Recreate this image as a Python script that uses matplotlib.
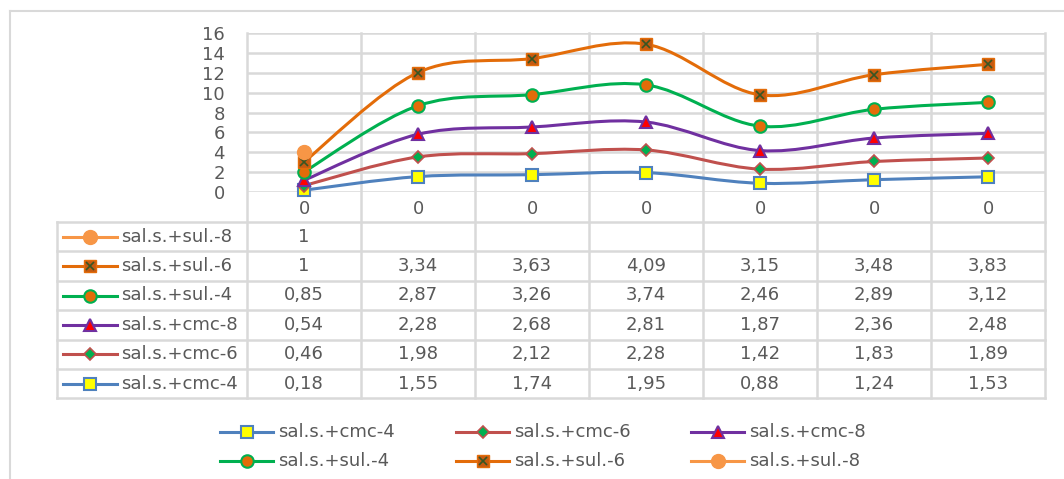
import numpy as np
import matplotlib
matplotlib.use("Agg")
import matplotlib.pyplot as plt
from matplotlib.path import Path
from matplotlib.patches import PathPatch

plt.rcParams['font.family'] = ['DejaVu Sans']

categories = ["0", "0", "0", "0", "0", "0", "0"]

cmc_4 = [0.18, 1.55, 1.74, 1.95, 0.88, 1.24, 1.53]
cmc_6 = [0.46, 1.98, 2.12, 2.28, 1.42, 1.83, 1.89]
cmc_8 = [0.54, 2.28, 2.68, 2.81, 1.87, 2.36, 2.48]
sul_4 = [0.85, 2.87, 3.26, 3.74, 2.46, 2.89, 3.12]
sul_6 = [1, 3.34, 3.63, 4.09, 3.15, 3.48, 3.83]
sul_8 = [1, None, None, None, None, None, None]

names = ["sal.s.+cmc-4", "sal.s.+cmc-6", "sal.s.+cmc-8",
         "sal.s.+sul.-4", "sal.s.+sul.-6", "sal.s.+sul.-8"]
series = [cmc_4, cmc_6, cmc_8, sul_4, sul_6, sul_8]

styles = [
    dict(color="#4F81BD", marker="s", mfc="#FFFF00", mec="#4F81BD", ms=8, mew=1.5),
    dict(color="#C0504D", marker="D", mfc="#00B050", mec="#C0504D", ms=6, mew=1.2),
    dict(color="#7030A0", marker="^", mfc="#FF0000", mec="#7030A0", ms=9, mew=1.5),
    dict(color="#00B050", marker="o", mfc="#E36C09", mec="#00B050", ms=9, mew=1.5),
    dict(color="#E36C09", marker="s", mfc="#C55A11", mec="#E36C09", ms=8, mew=1.0),
    dict(color="#F79646", marker="o", mfc="#F79646", mec="#F79646", ms=10, mew=1.0),
]

grid_col = "#D9D9D9"
text_col = "#595959"
fs = 13

W, H = 1064, 479
fig = plt.figure(figsize=(W / 100, H / 100), dpi=100)

# pixel layout of plot area and data table
px_left, px_right, px_top, px_bottom = 247, 1045, 33, 192
tab_left = 57
row_h = 29.4
cat_row = px_bottom + 30
n = len(categories)
col_w = (px_right - px_left) / n

# background layer in pixel coordinates: borders, table, legend
ov = fig.add_axes([0, 0, 1, 1])
ov.set_xlim(0, W)
ov.set_ylim(H, 0)
ov.axis("off")

ov.plot([10, 10], [11, H], color=grid_col, lw=1.5)
ov.plot([10, W], [11, 11], color=grid_col, lw=1.5)

table_bottom = cat_row + 6 * row_h
for i in range(n + 1):
    x = px_left + i * col_w
    ov.plot([x, x], [px_top, table_bottom], color=grid_col, lw=1.8)
ov.plot([tab_left, tab_left], [cat_row, table_bottom], color=grid_col, lw=1.8)
for r in range(7):
    y = cat_row + r * row_h
    ov.plot([tab_left, px_right], [y, y], color=grid_col, lw=1.8)


def key(x0, x1, y, k):
    # little line + marker sample used by the table and the legend
    st = styles[k]
    xm = (x0 + x1) / 2
    ov.plot([x0, xm, x1], [y, y, y], color=st["color"], lw=2.2,
            marker=st["marker"], markevery=[1], mfc=st["mfc"], mec=st["mec"],
            ms=st["ms"], mew=st["mew"])
    if k == 4:
        ov.plot([xm], [y], marker="x", color="#375623", ms=6, mew=1.2)


# stacked values, as in the chart
stack = []
running = np.zeros(n)
for s in series:
    vals = np.array([np.nan if v is None else v for v in s], dtype=float)
    running = running + np.nan_to_num(vals)
    stack.append(np.where(np.isnan(vals), np.nan, running))

# table rows, top row is the last series
for r, idx in enumerate(range(len(series) - 1, -1, -1)):
    yc = cat_row + (r + 0.5) * row_h
    key(63, 117, yc, idx)
    ov.text(121, yc, names[idx], va="center", ha="left", fontsize=fs, color=text_col)
    for c, v in enumerate(series[idx]):
        if v is None:
            continue
        label = f"{v:g}".replace(".", ",")
        ov.text(px_left + (c + 0.5) * col_w, yc, label, va="center", ha="center",
                fontsize=fs, color=text_col)

# legend below the table, two rows of three
leg_x = [220, 456, 691]
leg_y = [432, 461]
for k in range(len(series)):
    x0 = leg_x[k % 3]
    y = leg_y[k // 3]
    key(x0, x0 + 53, y, k)
    ov.text(x0 + 58, y, names[k], va="center", ha="left", fontsize=fs,
            color=text_col)

# chart area
ax = fig.add_axes([px_left / W, 1 - px_bottom / H,
                   (px_right - px_left) / W, (px_bottom - px_top) / H])
ax.set_facecolor("none")
ax.set_xlim(-0.5, n - 0.5)
ax.set_ylim(0, 16)
ax.set_yticks(range(0, 17, 2))
ax.yaxis.grid(True, color=grid_col, lw=1.8)
ax.set_axisbelow(True)
ax.set_xticks(range(n))
ax.set_xticklabels(categories)
ax.tick_params(length=0, labelsize=fs, labelcolor=text_col)
ax.tick_params(axis="x", pad=6)
ax.tick_params(axis="y", pad=16)
for sp in ax.spines.values():
    sp.set_visible(False)


def smooth_path(xs, ys):
    # Bezier segments through each point (Excel style smoothing)
    pts = np.column_stack([xs, ys])
    verts = [pts[0]]
    codes = [Path.MOVETO]
    for i in range(len(pts) - 1):
        p0 = pts[i - 1] if i > 0 else pts[i]
        p1, p2 = pts[i], pts[i + 1]
        p3 = pts[i + 2] if i + 2 < len(pts) else pts[i + 1]
        verts += [p1 + (p2 - p0) / 6, p2 - (p3 - p1) / 6, p2]
        codes += [Path.CURVE4] * 3
    return Path(verts, codes)


x = np.arange(n)
for k, ys in enumerate(stack):
    st = styles[k]
    ok = ~np.isnan(ys)
    if ok.sum() > 1:
        ax.add_patch(PathPatch(smooth_path(x[ok], ys[ok]), fill=False,
                               edgecolor=st["color"], lw=2.2, zorder=3 + k))
    ax.plot(x[ok], ys[ok], ls="none", marker=st["marker"], mfc=st["mfc"],
            mec=st["mec"], ms=st["ms"], mew=st["mew"], zorder=10 + k, clip_on=False)
    if k == 4:
        ax.plot(x[ok], ys[ok], ls="none", marker="x", color="#375623", ms=6,
                mew=1.2, zorder=10 + k, clip_on=False)

fig.savefig("out.png", dpi=100)
